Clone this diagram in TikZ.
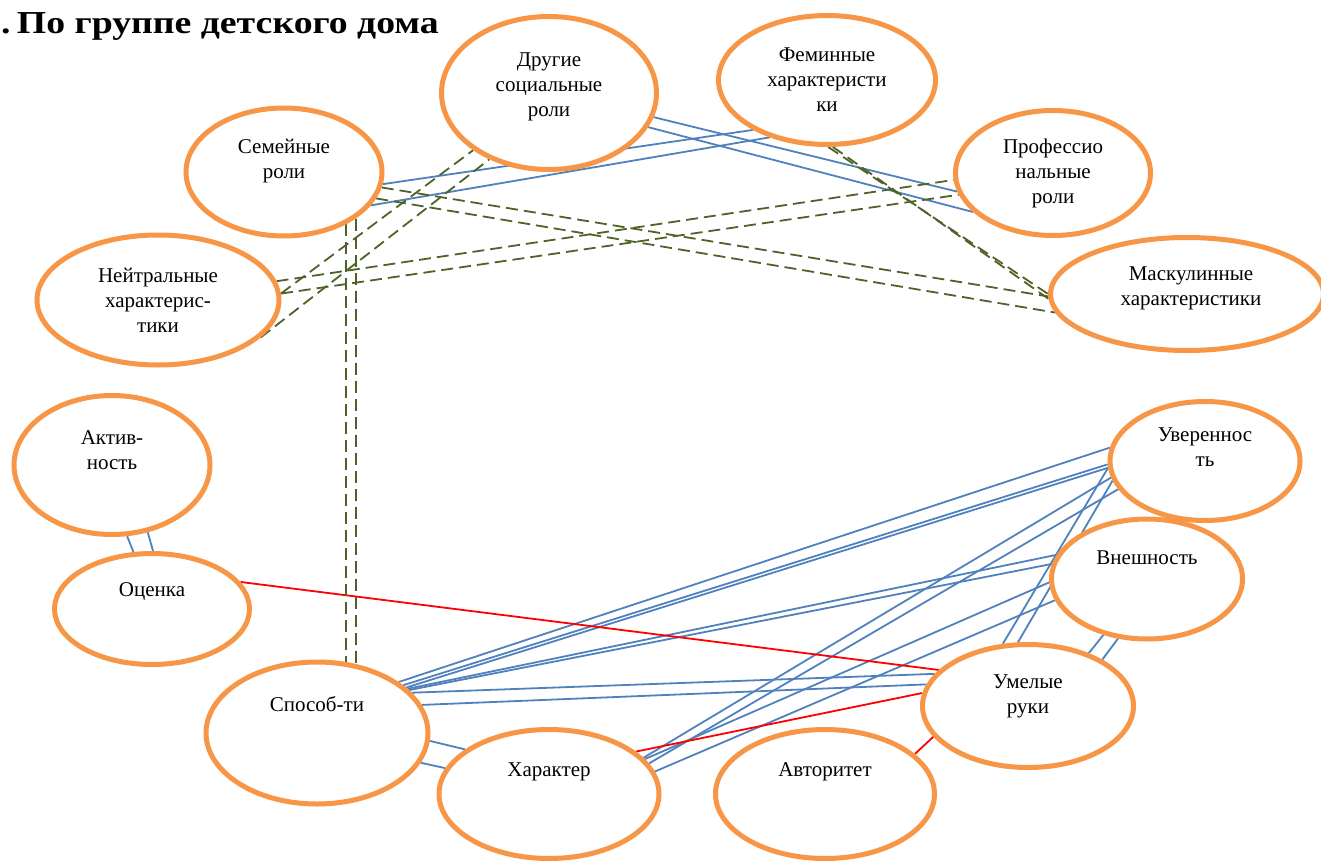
\documentclass[tikz,border=0pt]{standalone}
\usepackage{fontspec}
\setmainfont{Liberation Serif}
\usetikzlibrary{shapes,backgrounds}

\definecolor{ovalorange}{HTML}{F79646}
\definecolor{lineblue}{HTML}{4F81BD}
\definecolor{lineolive}{HTML}{4F6228}

\begin{document}
\begin{tikzpicture}[x=1pt, y=-1pt,
  oval/.style={ellipse, draw=ovalorange, line width=5pt, fill=white, inner sep=0pt},
  txt/.style={font=\fontsize{21}{25}\selectfont, align=center, inner sep=0pt},
  bline/.style={draw=lineblue, line width=1.8pt},
  gline/.style={draw=lineolive, line width=1.8pt, dash pattern=on 12pt off 6pt},
  rline/.style={draw=red, line width=1.8pt}]
\useasboundingbox (0,0) rectangle (1321,861);

% title
\node[anchor=base west, inner sep=0pt, xscale=1.18, font=\bfseries\fontsize{32}{38}\selectfont] (title) at (1,34) {.\,По группе детского дома};

% upper ovals
\node[oval, minimum width=215pt, minimum height=153pt, label={[txt,yshift=6pt]center:{Другие\\социальные\\роли}}] (drug) at (549,93) {};
\node[oval, minimum width=217pt, minimum height=129pt, label={[txt]center:{Феминные\\характеристи\\ки}}] (fem) at (827,80) {};
\node[oval, minimum width=196pt, minimum height=128pt, label={[txt,yshift=11pt]center:{Семейные\\роли}}] (sem) at (284,172) {};
\node[oval, minimum width=195pt, minimum height=125pt, label={[txt]center:{Профессио\\нальные\\роли}}] (prof) at (1053,173) {};
\node[oval, minimum width=242pt, minimum height=130pt, label={[txt]center:{Нейтральные\\характерис-\\тики}}] (neut) at (158,300) {};
\node[oval, minimum width=273pt, minimum height=113pt, label={[txt,yshift=6pt,xshift=4pt]center:{Маскулинные\\характеристики}}] (mask) at (1187,294) {};

% lower ovals
\node[oval, minimum width=196pt, minimum height=139pt, label={[txt,yshift=15pt]center:{Актив-\\ность}}] (akt) at (112,465) {};
\node[oval, minimum width=195pt, minimum height=111pt, label={[txt,yshift=17pt]center:Оценка}] (ots) at (152,609) {};
\node[oval, minimum width=190pt, minimum height=119pt, label={[txt,yshift=14pt]center:{Увереннос\\ть}}] (uver) at (1205,461) {};
\node[oval, minimum width=191pt, minimum height=120pt, label={[txt,yshift=21pt]center:Внешность}] (vnesh) at (1147,579) {};
\node[oval, minimum width=211pt, minimum height=123pt, label={[txt,yshift=10pt]center:{Умелые\\руки}}] (umel) at (1028,706) {};
\node[oval, minimum width=222pt, minimum height=142pt, label={[txt,yshift=29pt]center:Способ-ти}] (spos) at (317,733) {};
\node[oval, minimum width=220pt, minimum height=129pt, label={[txt,yshift=22pt]center:Характер}] (har) at (549,794) {};
\node[oval, minimum width=219pt, minimum height=129pt, label={[txt,yshift=22pt]center:Авторитет}] (avt) at (825,794) {};

\begin{scope}[on background layer]
% blue links
\draw[bline] (sem.-7) -- (fem.214);
\draw[bline] (sem.-21) -- (fem.225);
\draw[bline] (drug.-13) -- (prof.191);
\draw[bline] (drug.-19) -- (prof.206);
\draw[bline] (akt.-78) -- (ots.108);
\draw[bline] (akt.-62) -- (ots.89);
\draw[bline] (spos.-4) -- (har.152);
\draw[bline] (spos.-16) -- (har.166);
\draw[bline] (spos.32) -- (uver.172);
\draw[bline] (spos.29) -- (uver.182);
\draw[bline] (spos.27) -- (uver.184);
\draw[bline] (spos.26) -- (vnesh.165);
\draw[bline] (spos.25) -- (vnesh.171);
\draw[bline] (spos.23) -- (umel.161);
\draw[bline] (spos.15) -- (umel.168);
\draw[bline] (uver.184) -- (umel.112);
\draw[bline] (uver.192) -- (umel.99);
\draw[bline] (uver.190) -- (har.21);
\draw[bline] (uver.198) -- (har.17);
\draw[bline] (vnesh.182) -- (har.20);
\draw[bline] (vnesh.193) -- (har.12);
\draw[bline] (vnesh.232) -- (umel.41);
\draw[bline] (vnesh.244) -- (umel.32);
% red links
\draw[rline] (ots.17) -- (umel.158);
\draw[rline] (har.26) -- (umel.173);
\draw[rline] (avt.24) -- (umel.198);
% dashed links
\draw[gline] (sem.-40) -- (sem.-40 |- spos.68);
\draw[gline] (sem.-33) -- (sem.-33 |- spos.61);
\draw[gline] (sem.-9) -- (mask.181);
\draw[gline] (sem.-16) -- (mask.188);
\draw[gline] (neut.9) -- (prof.184);
\draw[gline] (neut.3) -- (prof.193);
\draw[gline] (neut.3) -- (drug.217);
\draw[gline] (neut.-20) -- (drug.228);
\draw[gline] (fem.-89) -- (mask.180);
\draw[gline] (fem.-85) -- (mask.182);
\end{scope}
\end{tikzpicture}
\end{document}
